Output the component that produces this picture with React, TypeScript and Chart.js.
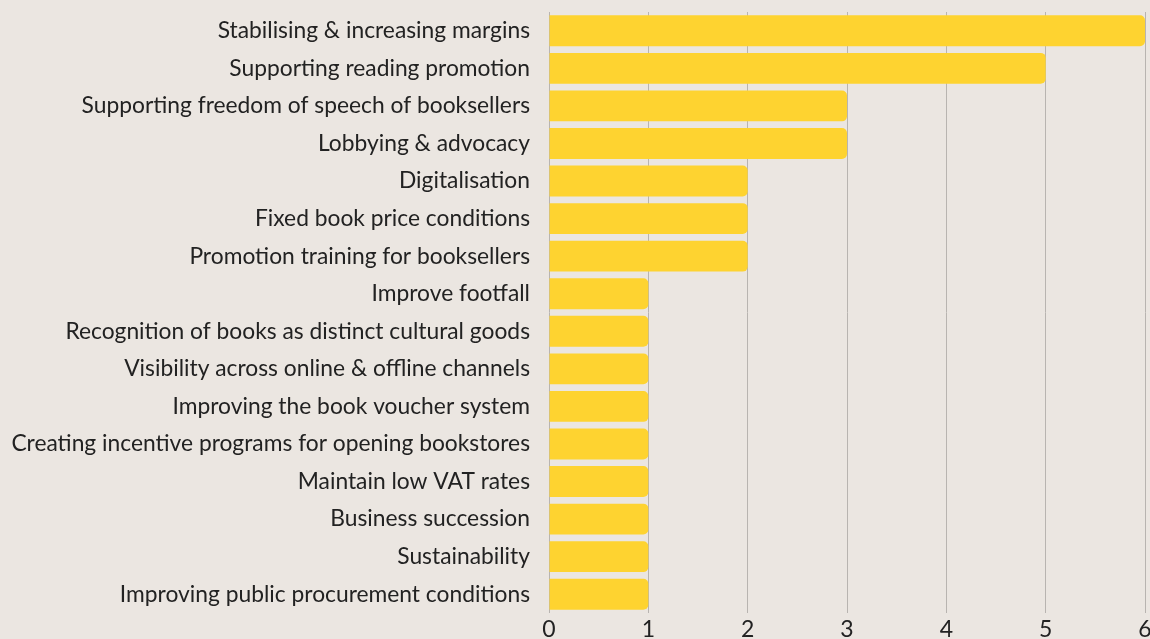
import React, { useEffect, useRef } from "react";
import { Chart, registerables } from "chart.js";

Chart.register(...registerables);

const categories = [
  "Stabilising & increasing margins",
  "Supporting reading promotion",
  "Supporting freedom of speech of booksellers",
  "Lobbying & advocacy",
  "Digitalisation",
  "Fixed book price conditions",
  "Promotion training for booksellers",
  "Improve footfall",
  "Recognition of books as distinct cultural goods",
  "Visibility across online & offline channels",
  "Improving the book voucher system",
  "Creating incentive programs for opening bookstores",
  "Maintain low VAT rates",
  "Business succession",
  "Sustainability",
  "Improving public procurement conditions",
];
const values = [6, 5, 3, 3, 2, 2, 2, 1, 1, 1, 1, 1, 1, 1, 1, 1];

const BG = "#ebe6e1";
const BAR = "#fed330";
const FONT = "Lato, 'Open Sans', sans-serif";

export default function App() {
  const ref = useRef<HTMLCanvasElement | null>(null);
  useEffect(() => {
    document.body.style.margin = "0";
    document.body.style.background = BG;
    const chart = new Chart(ref.current!, {
      type: "bar",
      data: {
        labels: categories,
        datasets: [
          {
            data: values,
            backgroundColor: BAR,
            borderRadius: { topRight: 5, bottomRight: 5, topLeft: 0, bottomLeft: 0 },
            borderSkipped: false,
            categoryPercentage: 0.9,
            barPercentage: 0.915,
          },
        ],
      },
      options: {
        indexAxis: "y",
        animation: false,
        responsive: false,
        maintainAspectRatio: false,
        layout: { padding: { top: 12, right: 5, bottom: 0, left: 0 } },
        plugins: { legend: { display: false }, tooltip: { enabled: false } },
        scales: {
          x: {
            min: 0,
            max: 6,
            ticks: { stepSize: 1, color: "#222", font: { family: FONT, size: 23 }, padding: 3 },
            grid: { color: "#b8b4b0", drawTicks: false, lineWidth: 1 },
            border: { display: false },
            afterFit: (s: any) => {
              s.height = 26;
              s.paddingLeft = 0;
              s.paddingRight = 0;
            },
          },
          y: {
            ticks: { color: "#222", font: { family: FONT, size: 22.8 }, padding: 19 },
            grid: { display: false, drawTicks: false },
            border: { display: false },
            afterFit: (s: any) => {
              s.width = 549;
              s.paddingTop = 0;
              s.paddingBottom = 0;
            },
          },
        },
      },
    });
    return () => chart.destroy();
  }, []);
  return (
    <div style={{ width: 1150, height: 639, background: BG }}>
      <canvas ref={ref} width={1150} height={639} style={{ display: "block" }} />
    </div>
  );
}
